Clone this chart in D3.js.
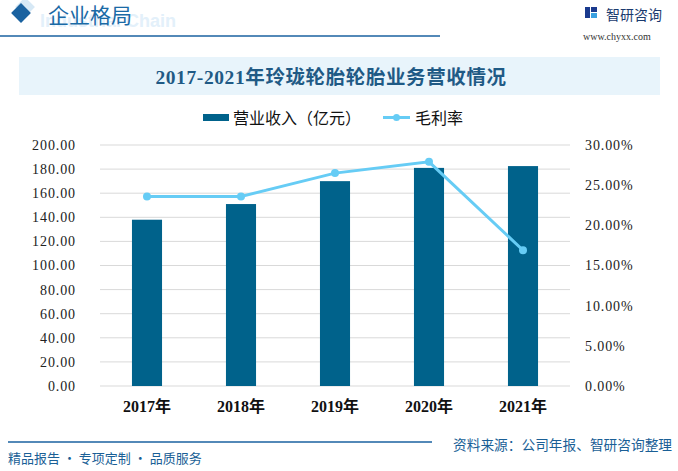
<!DOCTYPE html>
<html><head><meta charset="utf-8">
<script src="https://cdn.jsdelivr.net/npm/d3@7"></script>
<style>body{margin:0;background:#fff}svg{display:block}</style>
</head><body><svg id="c" width="678" height="471"></svg>
<script>
const categories = ["2017年","2018年","2019年","2020年","2021年"];
const revenue = [138, 151, 170, 181, 182.5];
const margin = [23.6, 23.6, 26.5, 27.9, 16.9];
const leftTicks = [0,20,40,60,80,100,120,140,160,180,200];
const rightTicks = [0,5,10,15,20,25,30];

const svg = d3.select("#c");
const serif = "'Liberation Serif','DejaVu Serif','Noto Sans CJK SC',serif";
const sans = "'Noto Sans CJK SC','Noto Sans',sans-serif";

// header
svg.append("text").attr("x",40).attr("y",27).text("Industrial Chain")
  .attr("font-family","Arial, 'Liberation Sans'").attr("font-weight","bold").attr("font-size",18).attr("fill","#e3f0fa");
svg.append("rect").attr("x",16).attr("y",5).attr("width",14).attr("height",14).attr("fill","#d6e8f5").attr("transform","rotate(45 30 12)");
svg.append("rect").attr("x",14).attr("y",6).attr("width",14).attr("height",14).attr("fill","#1a62a0").attr("transform","rotate(45 21 13)");
svg.append("text").attr("x",48).attr("y",23).text("企业格局").attr("font-family",sans).attr("font-size",21).attr("fill","#1a6aa6");
svg.append("line").attr("x1",0).attr("x2",440).attr("y1",36).attr("y2",36).attr("stroke","#1a62a0").attr("stroke-width",1.5);
// logo
const lg = svg.append("g");
lg.append("rect").attr("x",585).attr("y",7).attr("width",5).attr("height",11).attr("fill","#1a3a8e");
lg.append("rect").attr("x",591).attr("y",7).attr("width",6).attr("height",5).attr("fill","#1a3a8e");
lg.append("rect").attr("x",591).attr("y",13).attr("width",6).attr("height",5).attr("fill","#3aa0e0");
svg.append("text").attr("x",606).attr("y",20).text("智研咨询").attr("font-family",sans).attr("font-size",14).attr("fill","#1a3a6e");
svg.append("text").attr("x",583).attr("y",40).text("www.chyxx.com").attr("font-family",serif).attr("font-size",10).attr("fill","#333");

// title box
svg.append("rect").attr("x",19).attr("y",57).attr("width",641).attr("height",38).attr("fill","#e8f4fb");
svg.append("text").attr("x",331).attr("y",84).attr("text-anchor","middle").text("2017-2021年玲珑轮胎轮胎业务营收情况")
  .attr("font-family",serif).attr("font-weight","bold").attr("font-size",19.5).attr("letter-spacing",0.6).attr("fill","#1f5a85");

// legend
svg.append("rect").attr("x",203).attr("y",114).attr("width",26).attr("height",7).attr("fill","#00628b");
svg.append("text").attr("x",233).attr("y",124).text("营业收入（亿元）").attr("font-family",sans).attr("font-size",16).attr("fill","#111");
svg.append("line").attr("x1",383).attr("x2",410).attr("y1",117.5).attr("y2",117.5).attr("stroke","#66ccf5").attr("stroke-width",3);
svg.append("circle").attr("cx",396.5).attr("cy",117.5).attr("r",3.5).attr("fill","#66ccf5");
svg.append("text").attr("x",415).attr("y",124).text("毛利率").attr("font-family",sans).attr("font-size",16).attr("fill","#111");

// scales
const x = d3.scaleBand().domain(categories).range([100,570]).paddingInner(0.68).paddingOuter(0.34);
const y = d3.scaleLinear().domain([0,200]).range([386,145]);
const y2 = d3.scaleLinear().domain([0,30]).range([386,145]);

// grid
svg.append("g").selectAll("line").data(leftTicks).join("line")
  .attr("x1",100).attr("x2",570).attr("y1",d=>y(d)).attr("y2",d=>y(d))
  .attr("stroke","#d9d9d9").attr("stroke-width",1);

// axes
const ly = svg.append("g").attr("transform","translate(100,0)")
  .call(d3.axisLeft(y).tickValues(leftTicks).tickFormat(d=>d.toFixed(2)).tickSize(0).tickPadding(24));
ly.select(".domain").remove();
ly.selectAll("text").attr("font-family",serif).attr("font-size",14).attr("letter-spacing",0.9).attr("fill","#222");
const ry = svg.append("g").attr("transform","translate(570,0)")
  .call(d3.axisRight(y2).tickValues(rightTicks).tickFormat(d=>d.toFixed(2)+"%").tickSize(0).tickPadding(15));
ry.select(".domain").remove();
ry.selectAll("text").attr("font-family",serif).attr("font-size",14).attr("letter-spacing",0.9).attr("fill","#222");

const bx = svg.append("g").attr("transform","translate(0,386)")
  .call(d3.axisBottom(x).tickSize(0).tickPadding(15));
bx.select(".domain").remove();
bx.selectAll("text").attr("font-family",serif).attr("font-weight","bold").attr("font-size",16).attr("fill","#111");

// bars
svg.append("g").selectAll("rect").data(categories).join("rect")
  .attr("x",d=>x(d)).attr("width",x.bandwidth())
  .attr("y",(d,i)=>y(revenue[i])).attr("height",(d,i)=>y(0)-y(revenue[i]))
  .attr("fill","#00628b");

// line
const cx = d=>x(d)+x.bandwidth()/2;
svg.append("path").datum(categories)
  .attr("d",d3.line().x(d=>cx(d)).y((d,i)=>y2(margin[i])))
  .attr("fill","none").attr("stroke","#66ccf5").attr("stroke-width",3);
svg.append("g").selectAll("circle").data(categories).join("circle")
  .attr("cx",d=>cx(d)).attr("cy",(d,i)=>y2(margin[i])).attr("r",4).attr("fill","#66ccf5");

// footer
svg.append("line").attr("x1",8).attr("x2",432).attr("y1",442).attr("y2",442).attr("stroke","#1a62a0").attr("stroke-width",1.5);
svg.append("text").attr("x",8).attr("y",463).text("精品报告 · 专项定制 · 品质服务").attr("font-family",sans).attr("font-size",13).attr("fill","#1a5f96");
svg.append("text").attr("x",453).attr("y",450).text("资料来源：公司年报、智研咨询整理").attr("font-family",sans).attr("font-size",13.7).attr("fill","#1a5f96");
</script></body></html>
